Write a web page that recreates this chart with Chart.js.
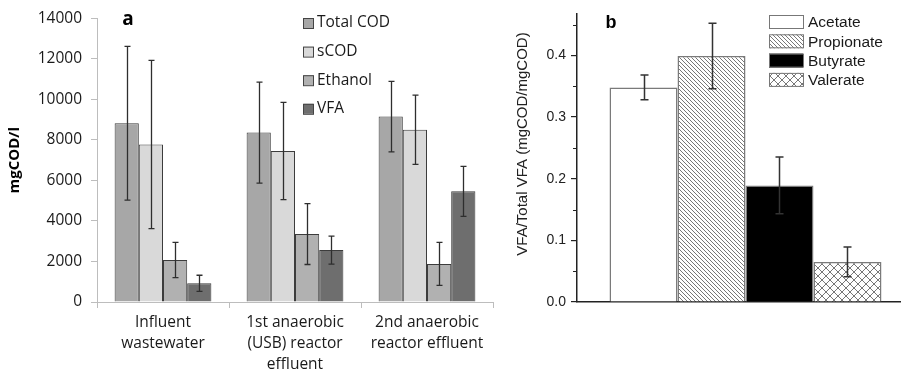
<!DOCTYPE html>
<html>
<head>
<meta charset="utf-8">
<script src="https://cdn.jsdelivr.net/npm/chart.js@4.4.1/dist/chart.umd.min.js"></script>
<style>
  html, body { margin: 0; padding: 0; background: #fff; overflow: hidden; width: 901px; height: 374px; }
  #codBox { position: absolute; left: 0; top: 0; width: 500px; height: 374px; }
  #vfaBox { position: absolute; left: 470px; top: 0; width: 450px; height: 374px; }
</style>
</head>
<body>
<div id="codBox"><canvas id="codChart"></canvas></div>
<div id="vfaBox"><canvas id="vfaChart"></canvas></div>
<script>
// ---- panel a: COD fractions per sampling point (mgCOD/l) ----
const streamLabels = [
    ['Influent', 'wastewater'],
    ['1st anaerobic', '(USB) reactor', 'effluent'],
    ['2nd anaerobic', 'reactor effluent']
];
const totalCOD = [8820, 8360, 9150];
const totalCODErr = [3790, 2490, 1740];
const sCOD = [7770, 7450, 8500];
const sCODErr = [4150, 2400, 1710];
const ethanol = [2070, 3350, 1880];
const ethanolErr = [870, 1500, 1060];
const vfa = [920, 2560, 5460];
const vfaErr = [400, 690, 1230];
const codTicks = [0, 2000, 4000, 6000, 8000, 10000, 12000, 14000];

// ---- panel b: share of each acid in total VFA ----
const acidNames = ['Acetate', 'Propionate', 'Butyrate', 'Valerate'];
const acidShare = [0.348, 0.399, 0.189, 0.065];
const acidShareErr = [0.020, 0.053, 0.046, 0.024];
const shareTicks = [0.0, 0.1, 0.2, 0.3, 0.4];
const shareMinorTicks = [0.05, 0.15, 0.25, 0.35, 0.45];

const SANS = '"Open Sans", "Noto Sans", sans-serif';
const ARIAL = '"Liberation Sans", Arial, sans-serif';

// ==================== Helpers ====================
function hatchPattern(kind) {
    const size = kind === 'cross' ? 8 : 4;
    const c = document.createElement('canvas');
    c.width = size;
    c.height = size;
    const g = c.getContext('2d');
    g.fillStyle = '#fff';
    g.fillRect(0, 0, size, size);
    g.strokeStyle = '#777';
    g.lineWidth = 1;
    g.beginPath();
    // "\" lines
    g.moveTo(-1, -1); g.lineTo(size + 1, size + 1);
    g.moveTo(-1, size - 1); g.lineTo(1, size + 1);
    g.moveTo(size - 1, -1); g.lineTo(size + 1, 1);
    if (kind === 'cross') {
        // "/" lines
        g.moveTo(-1, size + 1); g.lineTo(size + 1, -1);
        g.moveTo(-1, 1); g.lineTo(1, -1);
        g.moveTo(size - 1, size + 1); g.lineTo(size + 1, size - 1);
    }
    g.stroke();
    return g.createPattern(c, 'repeat');
}

// error bars drawn from dataset.errorBars through the y scale
const errorBarPlugin = {
    id: 'errorBars',
    afterDatasetsDraw(chart, args, opts) {
        const ctx = chart.ctx;
        const yScale = chart.scales.y;
        ctx.save();
        ctx.strokeStyle = opts.color;
        ctx.lineWidth = opts.width;
        chart.data.datasets.forEach((ds, i) => {
            if (!ds.errorBars) return;
            chart.getDatasetMeta(i).data.forEach((bar, j) => {
                const v = ds.data[j];
                const e = ds.errorBars[j];
                const x = Math.round(bar.x) + 0.5;
                const yTop = yScale.getPixelForValue(v + e);
                const yBot = yScale.getPixelForValue(v - e);
                ctx.beginPath();
                ctx.moveTo(x, yTop); ctx.lineTo(x, yBot);
                ctx.moveTo(x - opts.cap, yTop); ctx.lineTo(x + opts.cap, yTop);
                ctx.moveTo(x - opts.cap, yBot); ctx.lineTo(x + opts.cap, yBot);
                ctx.stroke();
            });
        });
        ctx.restore();
    }
};

// ==================== Panel a ====================
const codLegend = {
    id: 'codLegend',
    afterDraw(chart) {
        const ctx = chart.ctx;
        ctx.save();
        ctx.font = 'bold 19px ' + SANS;
        ctx.fillStyle = '#000';
        ctx.textAlign = 'center';
        ctx.textBaseline = 'middle';
        ctx.fillText('a', 128, 20);

        ctx.font = '15.5px ' + SANS;
        ctx.textAlign = 'left';
        chart.data.datasets.forEach((ds, i) => {
            const y = 23 + i * 28.6;
            ctx.fillStyle = ds.backgroundColor;
            ctx.fillRect(303.5, y - 5, 10, 10);
            ctx.strokeStyle = '#444';
            ctx.lineWidth = 1;
            ctx.strokeRect(303.5, y - 4.5, 10, 10);
            ctx.fillStyle = '#1a1a1a';
            ctx.fillText(ds.label, 317, y);
        });
        ctx.restore();
    }
};

function codDataset(label, data, err, color) {
    return {
        label: label,
        data: data,
        errorBars: err,
        backgroundColor: color,
        borderColor: '#3c3c3c',
        borderWidth: 1,
        categoryPercentage: 0.733,
        barPercentage: 1.0
    };
}

new Chart(document.getElementById('codChart'), {
    type: 'bar',
    data: {
        labels: streamLabels,
        datasets: [
            codDataset('Total COD', totalCOD, totalCODErr, '#a7a7a7'),
            codDataset('sCOD', sCOD, sCODErr, '#d9d9d9'),
            codDataset('Ethanol', ethanol, ethanolErr, '#b1b1b1'),
            codDataset('VFA', vfa, vfaErr, '#6e6e6e')
        ]
    },
    options: {
        responsive: true,
        maintainAspectRatio: false,
        animation: false,
        layout: { padding: { top: 16, right: 7, left: 0, bottom: 0 } },
        plugins: {
            legend: { display: false },
            tooltip: { enabled: false },
            errorBars: { color: '#2e2e2e', width: 1.3, cap: 3 }
        },
        scales: {
            x: {
                grid: { drawOnChartArea: false, tickLength: 6, color: '#bdbdbd', offset: true },
                border: { color: '#bdbdbd', width: 1 },
                ticks: {
                    color: '#1a1a1a',
                    font: { family: SANS, size: 15.5, lineHeight: 1.36 },
                    padding: 4,
                    maxRotation: 0,
                    autoSkip: false
                },
                afterFit(scale) { scale.height = 72; }
            },
            y: {
                min: 0,
                max: 14000,
                afterBuildTicks(scale) { scale.ticks = codTicks.map(v => ({ value: v })); },
                grid: { drawOnChartArea: false, tickLength: 6, color: '#bdbdbd' },
                border: { color: '#bdbdbd', width: 1 },
                ticks: {
                    color: '#1a1a1a',
                    font: { family: SANS, size: 15.5 },
                    padding: 9,
                    callback: value => String(value)
                },
                title: {
                    display: true,
                    text: 'mgCOD/l',
                    color: '#000',
                    font: { family: SANS, size: 15, weight: 'bold', lineHeight: 1.2 },
                    padding: { top: 6, bottom: 0 }
                },
                afterFit(scale) { scale.width = 97; }
            }
        }
    },
    plugins: [errorBarPlugin, codLegend]
});

// ==================== Panel b ====================
const acidFills = ['#ffffff', hatchPattern('diag'), '#000000', hatchPattern('cross')];

const shareDecor = {
    id: 'shareDecor',
    afterDraw(chart) {
        const ctx = chart.ctx;
        const yScale = chart.scales.y;
        const left = chart.chartArea.left;
        ctx.save();
        // minor ticks
        ctx.strokeStyle = '#222';
        ctx.lineWidth = 1.2;
        ctx.beginPath();
        shareMinorTicks.forEach(v => {
            const y = Math.round(yScale.getPixelForValue(v)) + 0.5;
            ctx.moveTo(left - 4, y);
            ctx.lineTo(left, y);
        });
        ctx.stroke();

        // axis title
        ctx.fillStyle = '#222';
        ctx.font = '15px ' + ARIAL;
        ctx.textAlign = 'center';
        ctx.textBaseline = 'middle';
        ctx.save();
        ctx.translate(53, 144);
        ctx.rotate(-Math.PI / 2);
        ctx.fillText('VFA/Total VFA (mgCOD/mgCOD)', 0, 0);
        ctx.restore();

        // panel letter
        ctx.font = 'bold 18px ' + ARIAL;
        ctx.fillStyle = '#000';
        ctx.fillText('b', 141, 23);

        // legend
        ctx.font = '15.5px ' + ARIAL;
        ctx.textAlign = 'left';
        chart.data.datasets.forEach((ds, i) => {
            const y = 22 + i * 19.3;
            ctx.fillStyle = ds.backgroundColor;
            ctx.fillRect(299, y - 7, 34, 14);
            ctx.strokeStyle = '#777';
            ctx.lineWidth = 1;
            ctx.strokeRect(299.5, y - 6.5, 34, 13);
            ctx.fillStyle = '#1a1a1a';
            ctx.fillText(ds.label, 338, y + 1);
        });
        ctx.restore();
    }
};

new Chart(document.getElementById('vfaChart'), {
    type: 'bar',
    data: {
        labels: [''],
        datasets: acidNames.map((name, i) => ({
            label: name,
            data: [acidShare[i]],
            errorBars: [acidShareErr[i]],
            backgroundColor: acidFills[i],
            borderColor: '#7a7a7a',
            borderWidth: 1.5,
            categoryPercentage: 0.807,
            barPercentage: 1.0
        }))
    },
    options: {
        responsive: true,
        maintainAspectRatio: false,
        animation: false,
        layout: { padding: { top: 9, right: 6, left: 0, bottom: 0 } },
        plugins: {
            legend: { display: false },
            tooltip: { enabled: false },
            errorBars: { color: '#333', width: 1.5, cap: 4 }
        },
        scales: {
            x: {
                grid: { display: false },
                border: { color: '#222', width: 1.5 },
                ticks: { display: false },
                afterFit(scale) { scale.height = 72; }
            },
            y: {
                min: 0,
                max: 0.468,
                afterBuildTicks(scale) { scale.ticks = shareTicks.map(v => ({ value: v })); },
                grid: { drawOnChartArea: false, tickLength: 6, color: '#222', lineWidth: 1.2 },
                border: { color: '#222', width: 1.5 },
                ticks: {
                    color: '#222',
                    font: { family: ARIAL, size: 14 },
                    padding: 5,
                    callback: value => value.toFixed(1)
                },
                afterFit(scale) { scale.width = 107; }
            }
        }
    },
    plugins: [errorBarPlugin, shareDecor]
});
</script>
</body>
</html>
